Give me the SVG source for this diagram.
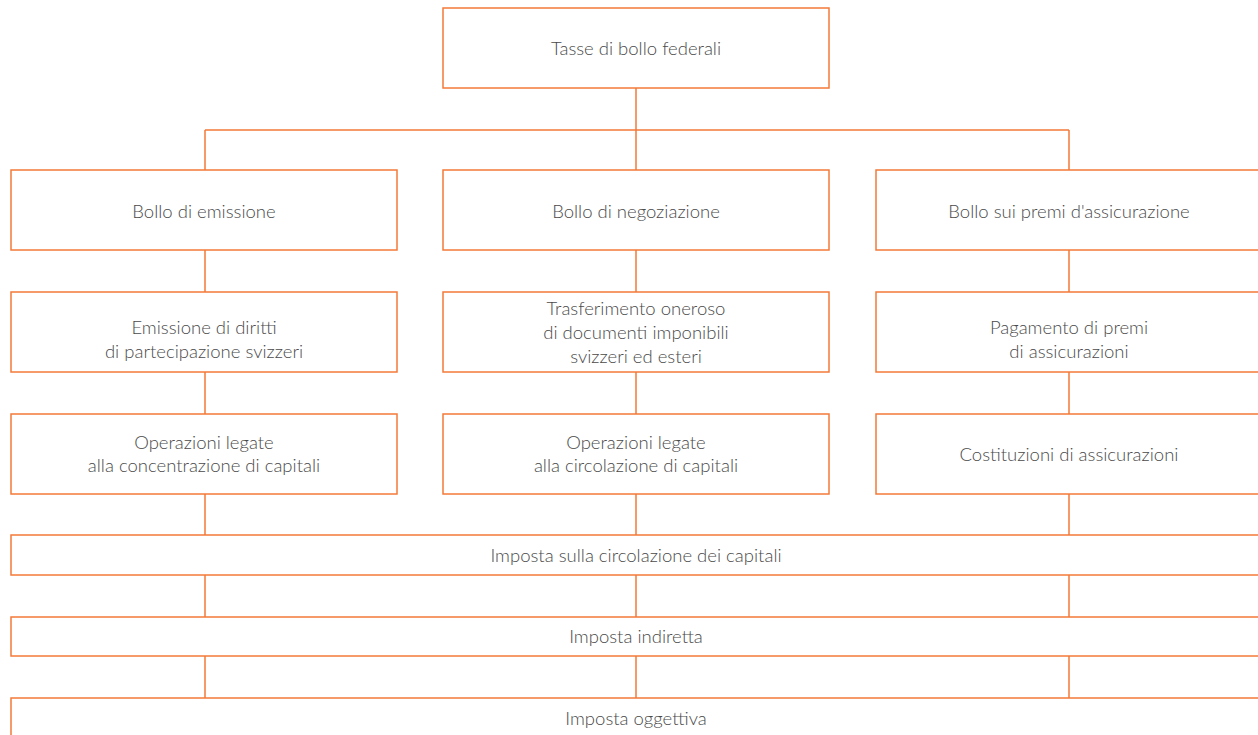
<svg xmlns="http://www.w3.org/2000/svg" width="1258" height="735" viewBox="0 0 1258 735">
<style>
.box{fill:#fff;stroke:#F47A38;stroke-width:1.5}
.ln{fill:none;stroke:#F47A38;stroke-width:1.5}
text{font-family:Lato,"Open Sans","Liberation Sans",sans-serif;font-size:18.5px;font-weight:300;fill:#4a4a4a;text-anchor:middle}
</style>
<rect width="1258" height="735" fill="#fff"/>
<g id="connectors">
<path class="ln" d="M636,88V130M205,130H1069M205,130V170M636,130V170M1069,130V170"/>
<path class="ln" d="M205,250V292M636,250V292M1069,250V292"/>
<path class="ln" d="M205,372V414M636,372V414M1069,372V414"/>
<path class="ln" d="M205,494V535M636,494V535M1069,494V535"/>
<path class="ln" d="M205,575V617M636,575V617M1069,575V617"/>
<path class="ln" d="M205,656V698M636,656V698M1069,656V698"/>
</g>
<g id="n-root"><rect class="box" x="443" y="8" width="386" height="80"/><text x="636" y="55">Tasse di bollo federali</text></g>
<g id="n-emissione"><rect class="box" x="11" y="170" width="386" height="80"/><text x="204" y="218">Bollo di emissione</text></g>
<g id="n-negoziazione"><rect class="box" x="443" y="170" width="386" height="80"/><text x="636" y="218">Bollo di negoziazione</text></g>
<g id="n-premi"><rect class="box" x="876" y="170" width="390" height="80"/><text x="1069" y="218">Bollo sui premi d'assicurazione</text></g>
<g id="n-emissione2"><rect class="box" x="11" y="292" width="386" height="80"/><text x="204" y="334">Emissione di diritti</text><text x="204" y="358">di partecipazione svizzeri</text></g>
<g id="n-trasferimento"><rect class="box" x="443" y="292" width="386" height="80"/><text x="636" y="315">Trasferimento oneroso</text><text x="636" y="339">di documenti imponibili</text><text x="636" y="363">svizzeri ed esteri</text></g>
<g id="n-pagamento"><rect class="box" x="876" y="292" width="390" height="80"/><text x="1069" y="334">Pagamento di premi</text><text x="1069" y="358">di assicurazioni</text></g>
<g id="n-concentrazione"><rect class="box" x="11" y="414" width="386" height="80"/><text x="204" y="449">Operazioni legate</text><text x="204" y="472">alla concentrazione di capitali</text></g>
<g id="n-circolazione"><rect class="box" x="443" y="414" width="386" height="80"/><text x="636" y="449">Operazioni legate</text><text x="636" y="472">alla circolazione di capitali</text></g>
<g id="n-costituzioni"><rect class="box" x="876" y="414" width="390" height="80"/><text x="1069" y="461">Costituzioni di assicurazioni</text></g>
<g id="n-imposta-circ"><rect class="box" x="11" y="535" width="1260" height="40"/><text x="636" y="562">Imposta sulla circolazione dei capitali</text></g>
<g id="n-indiretta"><rect class="box" x="11" y="617" width="1260" height="39"/><text x="636" y="643">Imposta indiretta</text></g>
<g id="n-oggettiva"><rect class="box" x="11" y="698" width="1260" height="45"/><text x="636" y="725">Imposta oggettiva</text></g>
</svg>
